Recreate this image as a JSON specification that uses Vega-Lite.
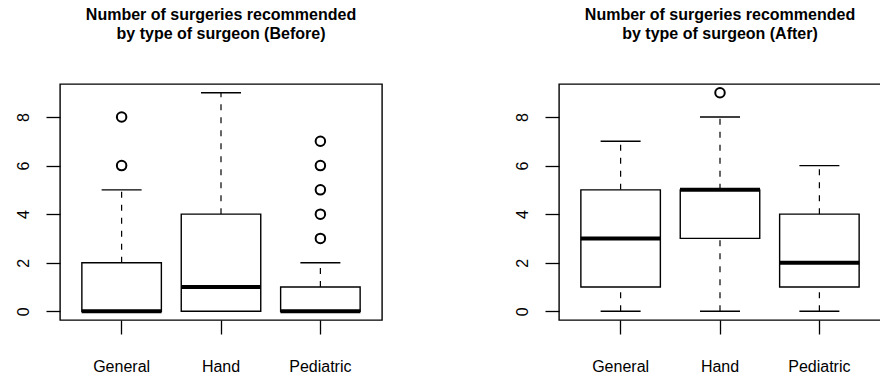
{
  "$schema": "https://vega.github.io/schema/vega-lite/v6.json",
  "padding": {"left": 14, "top": 6, "right": 0, "bottom": 0},
  "background": "white",
  "datasets": {
    "before": [
      {"type": "General", "lower": 0, "q1": 0, "median": 0, "q3": 2, "upper": 5},
      {"type": "Hand", "lower": 0, "q1": 0, "median": 1, "q3": 4, "upper": 9},
      {"type": "Pediatric", "lower": 0, "q1": 0, "median": 0, "q3": 1, "upper": 2}
    ],
    "before_out": [
      {"type": "General", "value": 6},
      {"type": "General", "value": 8},
      {"type": "Pediatric", "value": 3},
      {"type": "Pediatric", "value": 4},
      {"type": "Pediatric", "value": 5},
      {"type": "Pediatric", "value": 6},
      {"type": "Pediatric", "value": 7}
    ],
    "after": [
      {"type": "General", "lower": 0, "q1": 1, "median": 3, "q3": 5, "upper": 7},
      {"type": "Hand", "lower": 0, "q1": 3, "median": 5, "q3": 5, "upper": 8},
      {"type": "Pediatric", "lower": 0, "q1": 1, "median": 2, "q3": 4, "upper": 6}
    ],
    "after_out": [
      {"type": "Hand", "value": 9}
    ]
  },
  "hconcat": [
    {
      "width": 322,
      "height": 236,
      "title": {"text": ["Number of surgeries recommended", "by type of surgeon (Before)"]},
      "encoding": {
        "x": {"field": "type", "type": "nominal",
          "scale": {"domain": ["General", "Hand", "Pediatric"], "paddingInner": 0.2, "paddingOuter": 0.22},
          "axis": {"title": null, "labelAngle": 0, "labelBaseline": "alphabetic", "labelPadding": 37, "tickSize": 14, "domain": false}}
      },
      "layer": [
        {"data": {"name": "before"}, "mark": {"type": "rule", "strokeDash": [6, 7], "color": "black", "strokeWidth": 1.2},
          "encoding": {"y": {"field": "q3", "type": "quantitative", "scale": {"domain": [-0.36, 9.36], "nice": false, "zero": false},
            "axis": {"title": null, "values": [0, 2, 4, 6, 8], "labelAngle": -90, "labelAlign": "center", "labelBaseline": "alphabetic", "labelPadding": 18, "tickSize": 14, "grid": false, "domain": false}},
            "y2": {"field": "upper"}}},
        {"data": {"name": "before"}, "mark": {"type": "rule", "strokeDash": [6, 7], "color": "black", "strokeWidth": 1.2},
          "encoding": {"y": {"field": "lower", "type": "quantitative"}, "y2": {"field": "q1"}}},
        {"data": {"name": "before"}, "mark": {"type": "tick", "size": 40, "thickness": 1.4, "color": "black", "opacity": 1},
          "encoding": {"y": {"field": "upper", "type": "quantitative"}}},
        {"data": {"name": "before"}, "mark": {"type": "tick", "size": 40, "thickness": 1.4, "color": "black", "opacity": 1},
          "encoding": {"y": {"field": "lower", "type": "quantitative"}}},
        {"data": {"name": "before"}, "mark": {"type": "bar", "fill": "white", "stroke": "black", "strokeWidth": 1.4},
          "encoding": {"y": {"field": "q1", "type": "quantitative"}, "y2": {"field": "q3"}}},
        {"data": {"name": "before"}, "mark": {"type": "tick", "size": 80, "thickness": 4, "color": "black", "opacity": 1},
          "encoding": {"y": {"field": "median", "type": "quantitative"}}},
        {"data": {"name": "before_out"}, "mark": {"type": "point", "filled": false, "stroke": "black", "strokeWidth": 2, "size": 90, "opacity": 1},
          "encoding": {"y": {"field": "value", "type": "quantitative"}}}
      ]
    },
    {
      "width": 322,
      "height": 236,
      "title": {"text": ["Number of surgeries recommended", "by type of surgeon (After)"]},
      "encoding": {
        "x": {"field": "type", "type": "nominal",
          "scale": {"domain": ["General", "Hand", "Pediatric"], "paddingInner": 0.2, "paddingOuter": 0.22},
          "axis": {"title": null, "labelAngle": 0, "labelBaseline": "alphabetic", "labelPadding": 37, "tickSize": 14, "domain": false}}
      },
      "layer": [
        {"data": {"name": "after"}, "mark": {"type": "rule", "strokeDash": [6, 7], "color": "black", "strokeWidth": 1.2},
          "encoding": {"y": {"field": "q3", "type": "quantitative", "scale": {"domain": [-0.36, 9.36], "nice": false, "zero": false},
            "axis": {"title": null, "values": [0, 2, 4, 6, 8], "labelAngle": -90, "labelAlign": "center", "labelBaseline": "alphabetic", "labelPadding": 18, "tickSize": 14, "grid": false, "domain": false}},
            "y2": {"field": "upper"}}},
        {"data": {"name": "after"}, "mark": {"type": "rule", "strokeDash": [6, 7], "color": "black", "strokeWidth": 1.2},
          "encoding": {"y": {"field": "lower", "type": "quantitative"}, "y2": {"field": "q1"}}},
        {"data": {"name": "after"}, "mark": {"type": "tick", "size": 40, "thickness": 1.4, "color": "black", "opacity": 1},
          "encoding": {"y": {"field": "upper", "type": "quantitative"}}},
        {"data": {"name": "after"}, "mark": {"type": "tick", "size": 40, "thickness": 1.4, "color": "black", "opacity": 1},
          "encoding": {"y": {"field": "lower", "type": "quantitative"}}},
        {"data": {"name": "after"}, "mark": {"type": "bar", "fill": "white", "stroke": "black", "strokeWidth": 1.4},
          "encoding": {"y": {"field": "q1", "type": "quantitative"}, "y2": {"field": "q3"}}},
        {"data": {"name": "after"}, "mark": {"type": "tick", "size": 80, "thickness": 4, "color": "black", "opacity": 1},
          "encoding": {"y": {"field": "median", "type": "quantitative"}}},
        {"data": {"name": "after_out"}, "mark": {"type": "point", "filled": false, "stroke": "black", "strokeWidth": 2, "size": 90, "opacity": 1},
          "encoding": {"y": {"field": "value", "type": "quantitative"}}}
      ]
    }
  ],
  "spacing": 177,
  "bounds": "flush",
  "config": {
    "font": "Liberation Sans",
    "view": {"stroke": "black", "strokeWidth": 1.4},
    "axis": {"labelColor": "black", "tickColor": "black", "labelFontSize": 16, "labelFont": "Liberation Sans", "tickWidth": 1.3},
    "title": {"fontSize": 16, "fontWeight": "bold", "font": "Liberation Sans", "color": "black", "anchor": "middle", "offset": 42, "lineHeight": 19}
  }
}
